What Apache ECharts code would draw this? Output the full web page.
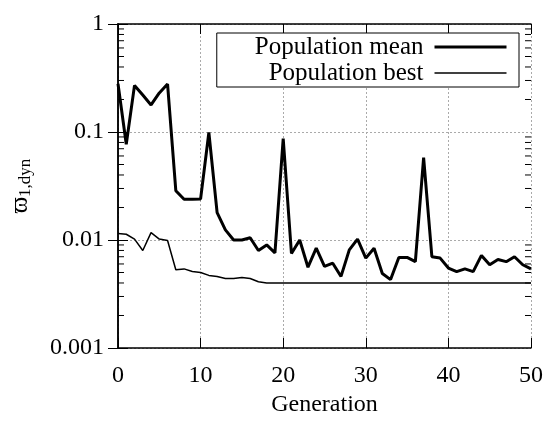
<!DOCTYPE html>
<html>
	<head>
		<meta charset="utf-8">
		<title>Population mean / best</title>
		<script src="https://cdn.jsdelivr.net/npm/echarts@6/dist/echarts.min.js"></script>
		<style>
			html, body { margin: 0; padding: 0; background: #fff; }
			#chart { width: 558px; height: 422px; }
		</style>
	</head>
	<body>
		<div id="chart"></div>
		<script>
			// values, generation 0..50
			var meanVals = [0.28, 0.077, 0.27, 0.22, 0.178, 0.23, 0.278, 0.0286, 0.0238, 0.0238,
				0.024, 0.099, 0.0179, 0.0124, 0.010, 0.010, 0.0105, 0.0080, 0.0090, 0.0076,
				0.087, 0.0075, 0.010, 0.0056, 0.0084, 0.0057, 0.0061, 0.0046, 0.0081, 0.0102,
				0.0068, 0.0084, 0.0049, 0.0043, 0.0069, 0.0069, 0.0063, 0.058, 0.0070, 0.0068,
				0.0055, 0.0051, 0.0054, 0.0051, 0.0072, 0.0059, 0.0066, 0.0063, 0.0070, 0.0059,
				0.0054];
			var bestVals = [0.0115, 0.0113, 0.0102, 0.0080, 0.0117, 0.0102, 0.0099, 0.0053, 0.0054, 0.0051,
				0.0050, 0.0047, 0.0046, 0.0044, 0.0044, 0.0045, 0.0044, 0.0041, 0.0040, 0.0040,
				0.0040, 0.0040, 0.0040, 0.0040, 0.0040, 0.0040, 0.0040, 0.0040, 0.0040, 0.0040,
				0.0040, 0.0040, 0.0040, 0.0040, 0.0040, 0.0040, 0.0040, 0.0040, 0.0040, 0.0040,
				0.0040, 0.0040, 0.0040, 0.0040, 0.0040, 0.0040, 0.0040, 0.0040, 0.0040, 0.0040,
				0.0040];
			var seriesNames = ['Population mean', 'Population best'];
			// log minor ticks (2..9 of each decade)
			var minorTickVals = [0.002, 0.003, 0.004, 0.005, 0.006, 0.007, 0.008, 0.009,
				0.02, 0.03, 0.04, 0.05, 0.06, 0.07, 0.08, 0.09,
				0.2, 0.3, 0.4, 0.5, 0.6, 0.7, 0.8, 0.9];

			var serif = "'Liberation Serif', 'Times New Roman', 'DejaVu Serif', serif";

			function toPairs(arr) {
				return arr.map(function(v, i) { return [i, v]; });
			}

			var myChart = echarts.init(document.getElementById('chart'));

			var option = {
				animation: false,
				backgroundColor: '#fff',
				textStyle: { fontFamily: serif, color: '#000' },
				grid: { left: 117, right: 27, top: 24, bottom: 74 },
				legend: {
					data: [
						{ name: seriesNames[0], lineStyle: { width: 3, color: '#000' } },
						{ name: seriesNames[1], lineStyle: { width: 1.5, color: '#000' } }
					],
					orient: 'vertical',
					align: 'right',
					right: 39,
					top: 33,
					padding: [1, 11, 1, 38],
					itemGap: 0,
					itemWidth: 72,
					itemHeight: 14,
					backgroundColor: '#fff',
					borderColor: '#000',
					borderWidth: 1,
					itemStyle: { opacity: 0 },
					textStyle: { fontFamily: serif, fontSize: 25, color: '#000', lineHeight: 26, padding: [0, 6, 0, 0] }
				},
				xAxis: [{
					type: 'value',
					min: 0, max: 50, interval: 10,
					name: 'Generation',
					nameLocation: 'middle',
					nameGap: 32,
					nameTextStyle: { fontFamily: serif, fontSize: 24, color: '#000' },
					axisLine: { lineStyle: { color: '#000', width: 1.5 } },
					axisTick: { inside: true, length: 10, lineStyle: { color: '#000' } },
					axisLabel: { margin: 16, fontFamily: serif, fontSize: 24, color: '#000' },
					splitLine: { lineStyle: { color: '#aaa', type: [2, 2], width: 1 } }
				}, {
					type: 'value',
					position: 'top',
					min: 0, max: 50, interval: 10,
					axisLine: { lineStyle: { color: '#000', width: 1.5 } },
					axisTick: { inside: true, length: 10, lineStyle: { color: '#000' } },
					axisLabel: { show: false },
					splitLine: { show: false }
				}],
				yAxis: [{
					type: 'log',
					logBase: 10,
					min: 0.001, max: 1,
					name: '{a|ϖ}{b|1,dyn}',
					nameLocation: 'middle',
					nameRotate: 90,
					nameGap: 84,
					nameTextStyle: {
						rich: {
							a: { fontFamily: serif, fontSize: 25, color: '#000' },
							b: { fontFamily: serif, fontSize: 17, color: '#000', padding: [10, 0, 0, 0] }
						}
					},
					axisLine: { show: true, lineStyle: { color: '#000', width: 1.5 } },
					axisTick: { inside: true, length: 10, lineStyle: { color: '#000' } },
					axisLabel: {
						margin: 14, fontFamily: serif, fontSize: 24, color: '#000',
						formatter: function(v) { return String(+(+v).toPrecision(1)); }
					},
					splitLine: { lineStyle: { color: '#aaa', type: [2, 2], width: 1 } }
				}, {
					type: 'log',
					logBase: 10,
					min: 0.001, max: 1,
					position: 'right',
					axisLine: { show: true, lineStyle: { color: '#000', width: 1.5 } },
					axisTick: { inside: true, length: 10, lineStyle: { color: '#000' } },
					axisLabel: { show: false },
					splitLine: { show: false }
				}],
				series: [{
					name: seriesNames[0],
					type: 'line',
					data: toPairs(meanVals),
					showSymbol: false,
					symbol: 'none',
					lineStyle: { color: '#000', width: 3 },
					itemStyle: { color: '#000' },
					z: 3
				}, {
					name: seriesNames[1],
					type: 'line',
					data: toPairs(bestVals),
					showSymbol: false,
					symbol: 'none',
					lineStyle: { color: '#000', width: 1.5 },
					itemStyle: { color: '#000' },
					z: 3
				}, {
					// minor ticks on both log axes
					type: 'custom',
					silent: true,
					clip: false,
					data: minorTickVals.map(function(v) { return [0, v]; }),
					encode: { x: 0, y: 1 },
					renderItem: function(params, api) {
						var l = api.coord([0, api.value(1)]);
						var r = api.coord([50, api.value(1)]);
						var st = { stroke: '#000', lineWidth: 1 };
						return {
							type: 'group',
							children: [
								{ type: 'line', shape: { x1: l[0], y1: l[1], x2: l[0] + 6, y2: l[1] }, style: st },
								{ type: 'line', shape: { x1: r[0], y1: r[1], x2: r[0] - 6, y2: r[1] }, style: st }
							]
						};
					},
					z: 4
				}]
			};

			option && myChart.setOption(option);
		</script>
	</body>
</html>
